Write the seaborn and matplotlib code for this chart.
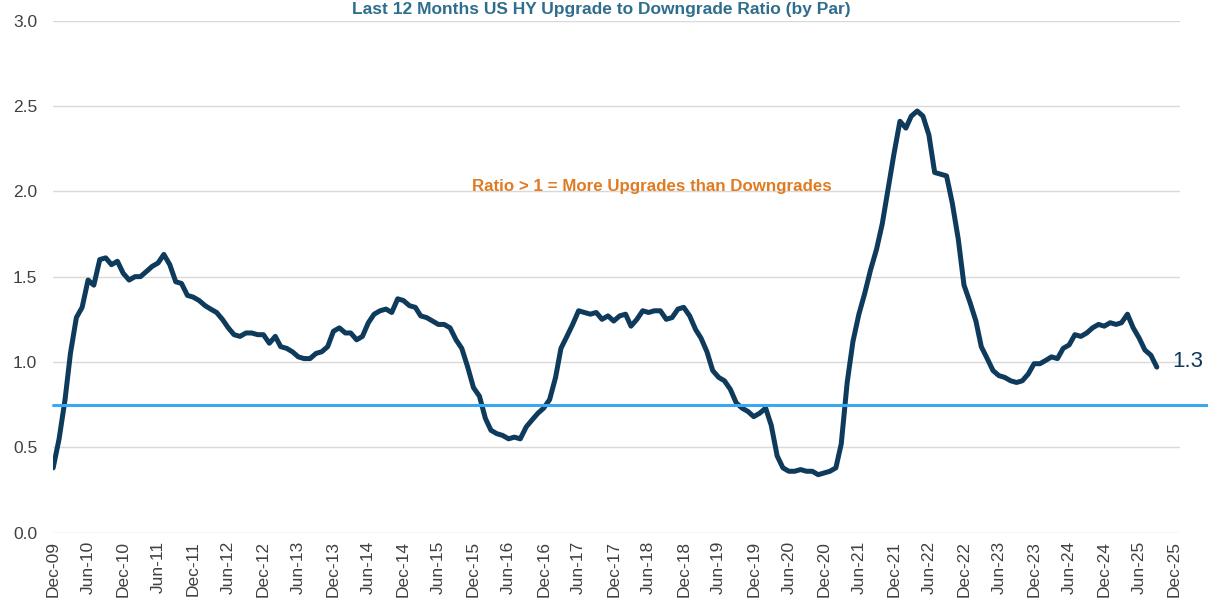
import pandas as pd
import matplotlib.pyplot as plt
import matplotlib.dates as mdates
import seaborn as sns

# Last 12m upgrade/downgrade ratio, monthly from Dec-09
ratio = [
    0.38,
    0.55, 0.78, 1.05, 1.26, 1.32, 1.48, 1.45, 1.60, 1.61, 1.57, 1.59, 1.52,  # 2010
    1.48, 1.50, 1.50, 1.53, 1.56, 1.58, 1.63, 1.57, 1.47, 1.46, 1.39, 1.38,  # 2011
    1.36, 1.33, 1.31, 1.29, 1.25, 1.20, 1.16, 1.15, 1.17, 1.17, 1.16, 1.16,  # 2012
    1.11, 1.15, 1.09, 1.08, 1.06, 1.03, 1.02, 1.02, 1.05, 1.06, 1.09, 1.18,  # 2013
    1.20, 1.17, 1.17, 1.13, 1.15, 1.23, 1.28, 1.30, 1.31, 1.29, 1.37, 1.36,  # 2014
    1.33, 1.32, 1.27, 1.26, 1.24, 1.22, 1.22, 1.20, 1.13, 1.08, 0.97, 0.85,  # 2015
    0.80, 0.67, 0.60, 0.58, 0.57, 0.55, 0.56, 0.55, 0.62, 0.66, 0.70, 0.73,  # 2016
    0.78, 0.91, 1.08, 1.15, 1.22, 1.30, 1.29, 1.28, 1.29, 1.25, 1.27, 1.24,  # 2017
    1.27, 1.28, 1.21, 1.25, 1.30, 1.29, 1.30, 1.30, 1.25, 1.26, 1.31, 1.32,  # 2018
    1.27, 1.19, 1.14, 1.06, 0.95, 0.91, 0.89, 0.84, 0.76, 0.73, 0.71, 0.68,  # 2019
    0.70, 0.73, 0.63, 0.45, 0.38, 0.36, 0.36, 0.37, 0.36, 0.36, 0.34, 0.35,  # 2020
    0.36, 0.38, 0.52, 0.88, 1.12, 1.28, 1.40, 1.54, 1.66, 1.81, 2.02, 2.22,  # 2021
    2.41, 2.37, 2.44, 2.47, 2.44, 2.33, 2.11, 2.10, 2.09, 1.93, 1.72, 1.45,  # 2022
    1.35, 1.24, 1.09, 1.02, 0.95, 0.92, 0.91, 0.89, 0.88, 0.89, 0.93, 0.99,  # 2023
    0.99, 1.01, 1.03, 1.02, 1.08, 1.10, 1.16, 1.15, 1.17, 1.20, 1.22, 1.21,  # 2024
    1.23, 1.22, 1.23, 1.28, 1.20, 1.14, 1.07, 1.04, 0.97,                    # 2025
]
months = pd.date_range("2009-12-01", periods=len(ratio), freq="MS")

threshold = 0.75
end_label = "1.3"
title = "Last 12 Months US HY Upgrade to Downgrade Ratio (by Par)"
note = "Ratio > 1 = More Upgrades than Downgrades"
y_ticks = [0.0, 0.5, 1.0, 1.5, 2.0, 2.5, 3.0]

sns.set_theme(style="white")
plt.rcParams['font.family'] = ['Liberation Sans', 'DejaVu Sans']

fig = plt.figure(figsize=(12.08, 6.04), dpi=100)
ax = fig.add_axes([0.044, 0.118, 0.933, 0.848])

df = pd.DataFrame({"Month": months, "Ratio": ratio})
sns.lineplot(data=df, x="Month", y="Ratio", color="#0e3a5c", linewidth=3.6,
             solid_joinstyle="round", solid_capstyle="round", ax=ax)

# threshold line runs past the plot to the right edge
ax.axhline(threshold, xmin=0, xmax=1.025, color="#3aa8ee", linewidth=2.2,
           clip_on=False, zorder=3)

ax.set_ylim(0, 3.0)
ax.set_yticks(y_ticks)
ax.set_yticklabels([f"{t:.1f}" for t in y_ticks])
ax.set_xlim(pd.Timestamp("2009-12-01"), pd.Timestamp("2026-01-01"))
ax.xaxis.set_major_locator(mdates.MonthLocator(bymonth=[6, 12]))
ax.xaxis.set_major_formatter(mdates.DateFormatter("%b-%y"))
ax.grid(axis="y", color="#d9d9d9", linewidth=1)
ax.set_axisbelow(True)
sns.despine(ax=ax, left=True, bottom=True)
ax.tick_params(axis="y", length=0, pad=11.5, labelsize=12.5, labelcolor="#404040")
ax.tick_params(axis="x", length=0, pad=6, labelsize=12.5, labelcolor="#404040",
               rotation=90)
ax.set_xlabel("")
ax.set_ylabel("")

ax.text(0.5315, 2.03, note, transform=ax.get_yaxis_transform(), ha="center",
        va="center", color="#e07b22", fontsize=12.2, fontweight="bold")
ax.text(0.993, 1.0, end_label, transform=ax.get_yaxis_transform(), ha="left",
        va="center", color="#0e3a5c", fontsize=16, clip_on=False)

fig.text(0.4975, 1 - 14 / 604, title, ha="center", va="baseline",
         color="#2f6e8f", fontsize=12.5, fontweight="bold")

fig.savefig("out.png", dpi=100)
